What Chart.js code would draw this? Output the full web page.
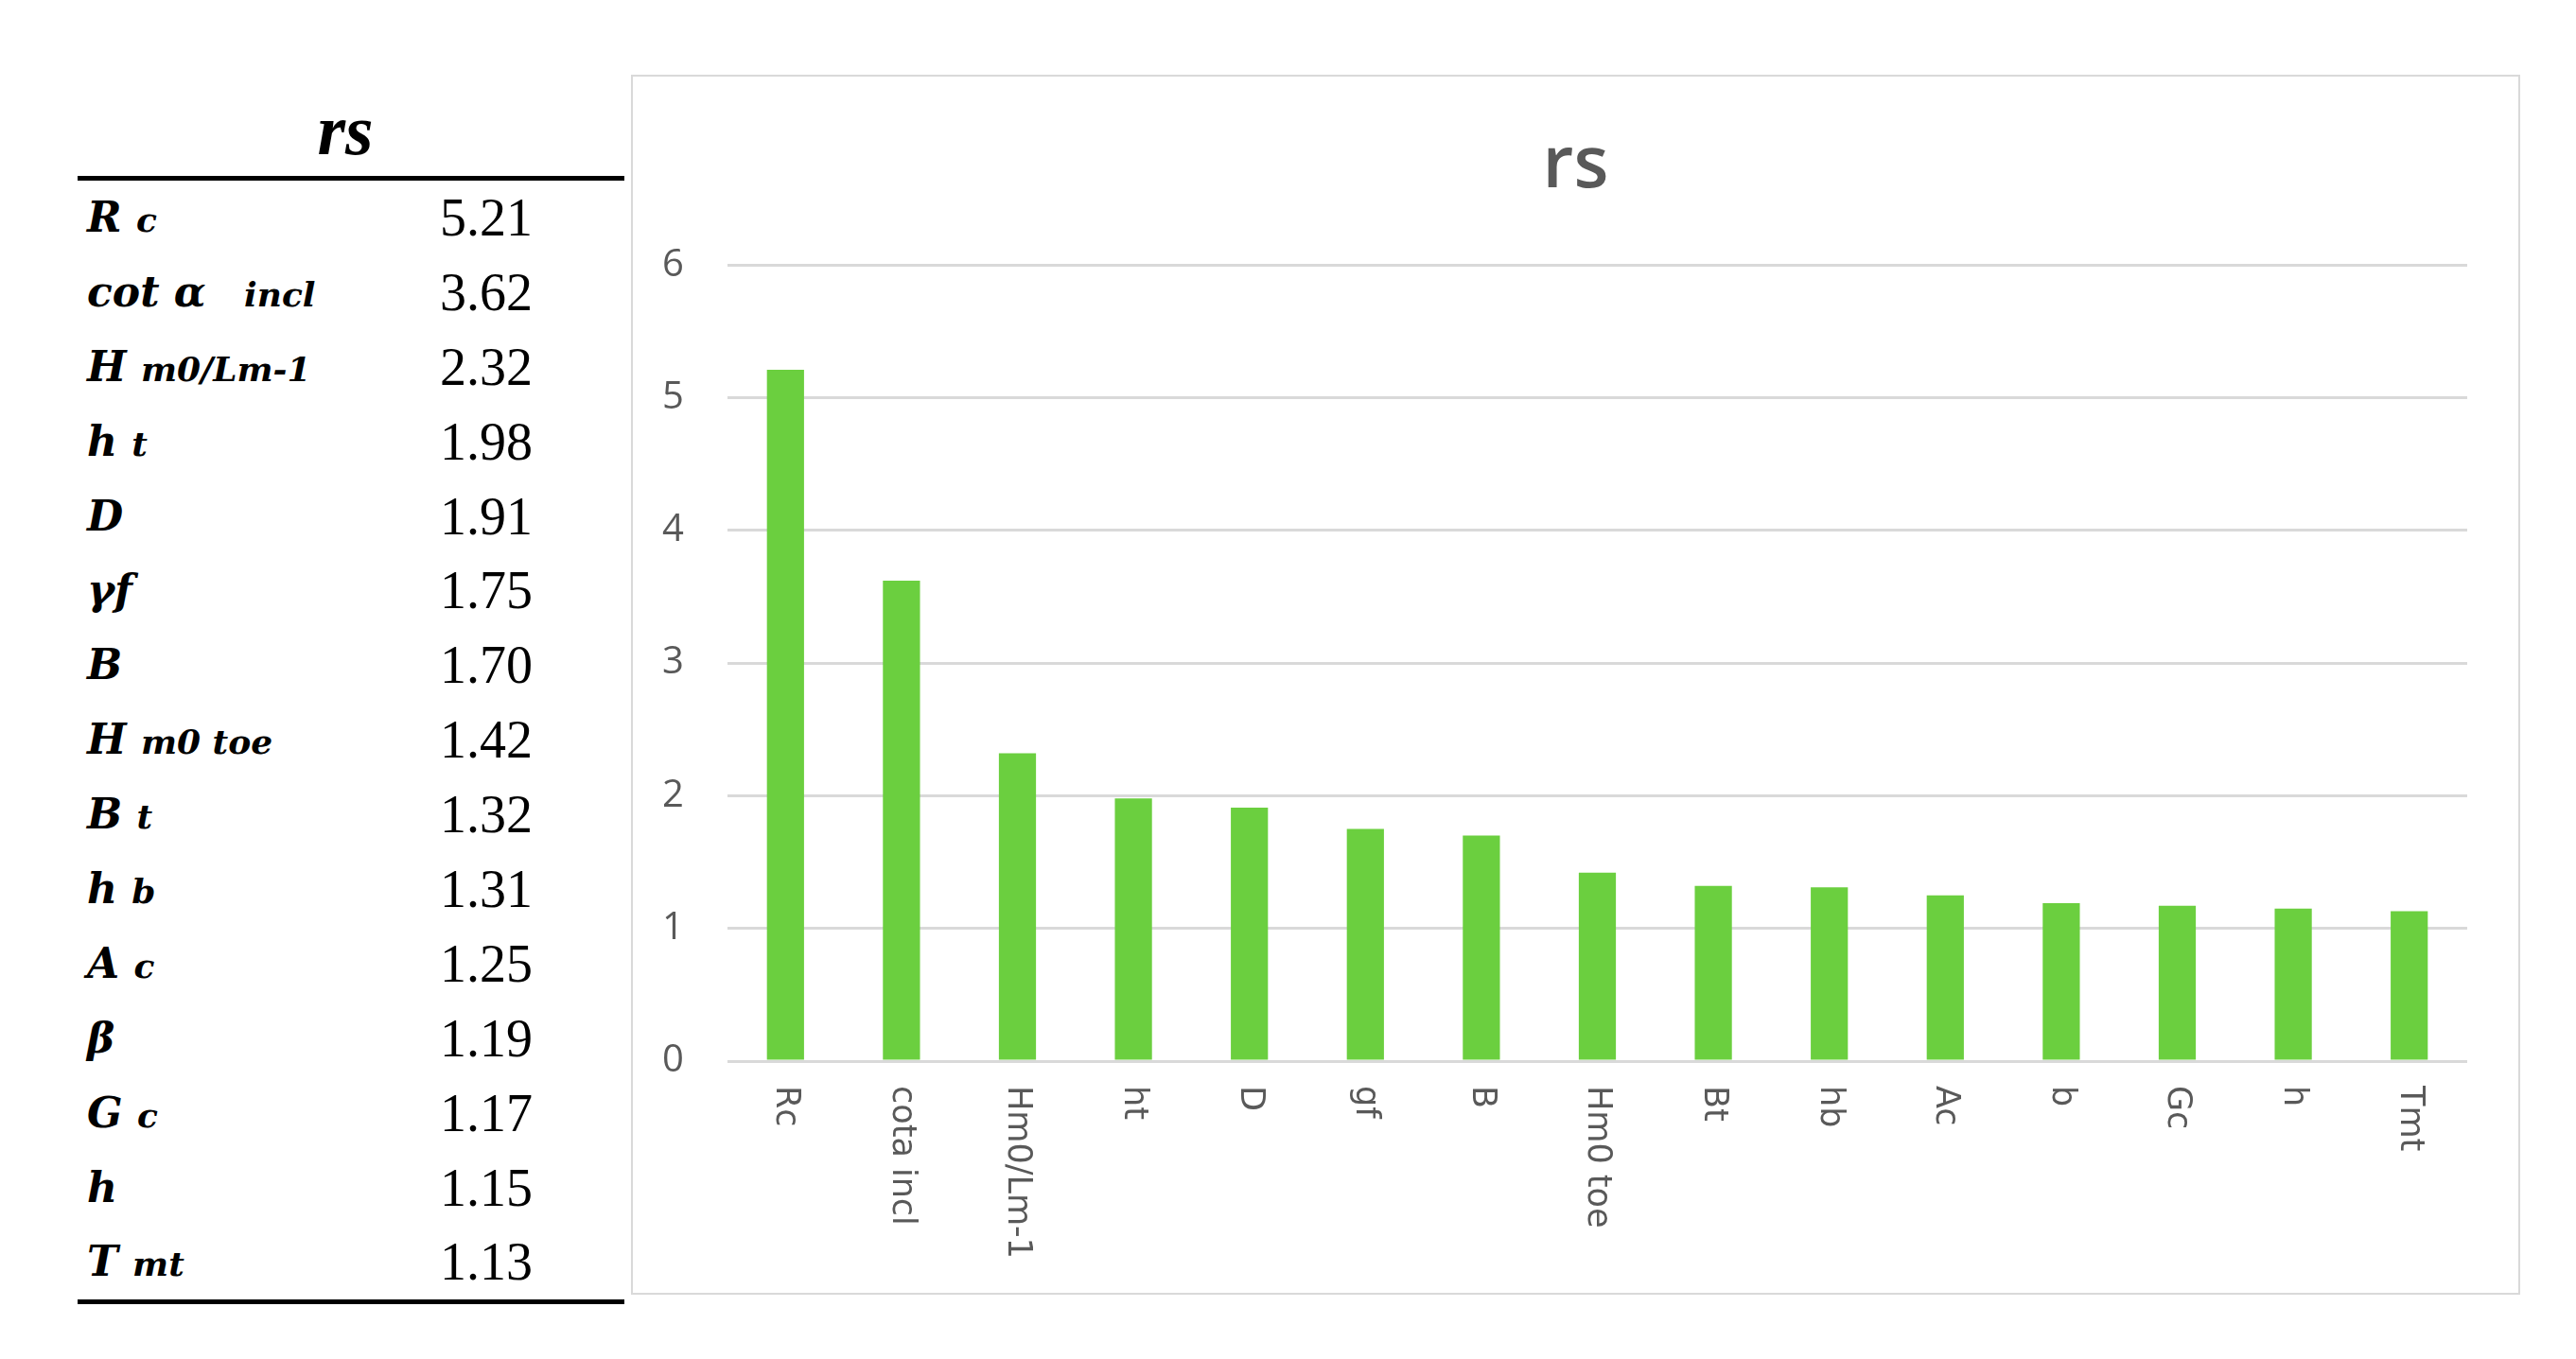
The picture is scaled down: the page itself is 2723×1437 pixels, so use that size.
<!DOCTYPE html>
<html>
<head>
<meta charset="utf-8">
<script src="https://cdn.jsdelivr.net/npm/chart.js@4"></script>
<style>
    body { margin: 0; background: #fff; width: 2723px; height: 1437px; position: relative; overflow: hidden; }
    #table { position: absolute; left: 82px; top: 186px; width: 578px; color: #000; }
    #tableTitle { position: absolute; left: 76px; top: 94px; width: 578px; height: 80px; line-height: 80px; text-align: center; font: italic bold 76px 'Liberation Serif', serif; }
    #table .rule { height: 5px; background: #000; }
    #table .row { height: 78.9px; line-height: 78.9px; position: relative; white-space: nowrap; }
    #table .sym { position: absolute; left: 10px; font-family: 'DejaVu Serif', serif; font-style: italic; font-weight: bold; font-size: 44px; }
    #table .sym small { font-size: 36px; }
    #table .val { position: absolute; left: 383px; font-family: 'Liberation Serif', serif; font-size: 56px; }
    #chartBox { position: absolute; left: 667px; top: 79px; width: 1997px; height: 1290px; border: 2px solid #d9d9d9; box-sizing: border-box; }
</style>
</head>
<body>
<div id="tableTitle">rs</div>
<div id="table"></div>
<div id="chartBox"><canvas id="rsChart"></canvas></div>
<script>
// kategori grafik (label sumbu x)
const categories = ['Rc', 'cota incl', 'Hm0/Lm-1', 'ht', 'D', 'gf', 'B', 'Hm0 toe', 'Bt', 'hb', 'Ac', 'b', 'Gc', 'h', 'Tmt'];
// nilai rs
const rsValues = [5.21, 3.62, 2.32, 1.98, 1.91, 1.75, 1.70, 1.42, 1.32, 1.31, 1.25, 1.19, 1.17, 1.15, 1.13];
// simbol tabel: bagian utama dan subskrip
const tableSymbols = ['R', 'cot α', 'H', 'h', 'D', 'γf', 'B', 'H', 'B', 'h', 'A', 'β', 'G', 'h', 'T'];
const tableSubs = ['c', '&nbsp;&nbsp;incl', 'm0/Lm-1', 't', '', '', '', 'm0 toe', 't', 'b', 'c', '', 'c', '', 'mt'];
const yTicks = [0, 1, 2, 3, 4, 5, 6];

// isi tabel
const table = document.getElementById('table');
let html = '<div class="rule"></div>';
rsValues.forEach((v, i) => {
    const sub = tableSubs[i] ? ' <small>' + tableSubs[i] + '</small>' : '';
    html += '<div class="row"><span class="sym">' + tableSymbols[i] + sub + '</span>' +
            '<span class="val">' + v.toFixed(2) + '</span></div>';
});
html += '<div class="rule"></div>';
table.innerHTML = html;

// label sumbu x diputar 90 derajat searah jarum jam
const rotatedLabels = {
    id: 'rotatedLabels',
    afterDraw(chart) {
        const ctx = chart.ctx;
        const xs = chart.scales.x;
        ctx.save();
        ctx.font = '35px "DejaVu Sans"';
        ctx.fillStyle = '#595959';
        ctx.textAlign = 'left';
        ctx.textBaseline = 'middle';
        categories.forEach((label, i) => {
            ctx.save();
            ctx.translate(xs.getPixelForValue(i), xs.top + 26);
            ctx.rotate(Math.PI / 2);
            ctx.fillText(label, 0, 0);
            ctx.restore();
        });
        ctx.restore();
    }
};

new Chart(document.getElementById('rsChart'), {
    type: 'bar',
    data: {
        labels: categories,
        datasets: [{
            label: 'rs',
            data: rsValues,
            backgroundColor: '#6bcf3f',
            borderWidth: 0,
            barPercentage: 0.32,
            categoryPercentage: 1
        }]
    },
    options: {
        responsive: true,
        maintainAspectRatio: false,
        animation: false,
        layout: { padding: { left: 54, right: 54, top: 0, bottom: 0 } },
        plugins: {
            legend: { display: false },
            tooltip: { enabled: false },
            title: {
                display: true,
                text: 'rs',
                color: '#595959',
                font: { family: 'Open Sans', size: 76, weight: '600' },
                padding: { top: 50, bottom: 58 }
            }
        },
        scales: {
            x: {
                grid: { display: false },
                border: { display: false },
                ticks: { display: false },
                afterFit(scale) { scale.height = 245; }
            },
            y: {
                min: yTicks[0],
                max: yTicks[yTicks.length - 1],
                afterBuildTicks(scale) { scale.ticks = yTicks.map(v => ({ value: v })); },
                grid: { color: '#d9d9d9', lineWidth: 3, drawTicks: false },
                border: { display: false },
                ticks: {
                    color: '#595959',
                    font: { family: 'Open Sans', size: 40 },
                    mirror: true,
                    crossAlign: 'center',
                    padding: -69
                },
                afterFit(scale) { scale.width = 46; }
            }
        }
    },
    plugins: [rotatedLabels]
});
</script>
</body>
</html>
